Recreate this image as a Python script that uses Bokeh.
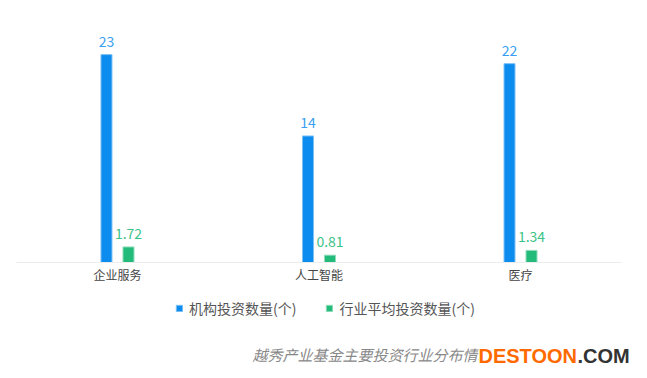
from bokeh.plotting import figure
from bokeh.models import ColumnDataSource, FactorRange, Legend, LegendItem, Label
from bokeh.transform import dodge
from bokeh.core.properties import value
from bokeh.embed import file_html
from bokeh.resources import INLINE

categories = ["企业服务", "人工智能", "医疗"]
inst_counts = [23, 14, 22]
avg_counts = [1.72, 0.81, 1.34]
series_names = ["机构投资数量(个)", "行业平均投资数量(个)"]
caption = "越秀产业基金主要投资行业分布情况"

BLUE = "#0b8cee"
GREEN = "#23bb7a"
FONT = "Noto Sans CJK SC"

src = ColumnDataSource(dict(
    cat=categories,
    inst=inst_counts,
    avg=avg_counts,
    inst_lbl=[str(v) for v in inst_counts],
    avg_lbl=[f"{v:.2f}" for v in avg_counts],
))

p = figure(width=637, height=370,
           x_range=FactorRange(*categories, range_padding=0.0537),
           y_range=(-11.95, 26), output_backend="svg", toolbar_location=None,
           min_border_left=0, min_border_right=0, min_border_top=27, min_border_bottom=0)
p.outline_line_color = None
p.grid.visible = False
p.yaxis.visible = False
p.background_fill_color = "white"

bw = 0.0546
r1 = p.vbar(x=dodge("cat", -bw, range=p.x_range), top="inst", width=bw, source=src,
            fill_color=BLUE, line_color="#7dc0f5", line_width=1)
r2 = p.vbar(x=dodge("cat", bw, range=p.x_range), top="avg", width=bw, source=src,
            fill_color=GREEN, line_color="#8fdcba", line_width=1)

p.text(x=dodge("cat", -bw, range=p.x_range), y="inst", text="inst_lbl", source=src,
       text_align="center", text_baseline="bottom", y_offset=-8,
       text_font=value(FONT), text_font_size="14px", text_color="#3a9ff0")
p.text(x=dodge("cat", bw, range=p.x_range), y="avg", text="avg_lbl", source=src,
       text_align="center", text_baseline="bottom", y_offset=-8,
       text_font=value(FONT), text_font_size="14px", text_color="#3cc388")

ax = p.xaxis[0]
ax.fixed_location = 0
ax.bounds = (0, 3)
ax.axis_line_color = "#ececec"
ax.axis_line_width = 1
ax.major_tick_line_color = None
ax.minor_tick_line_color = None
ax.major_label_standoff = -2
ax.major_label_text_font = FONT
ax.major_label_text_font_size = "12px"
ax.major_label_text_color = "#444444"

legend = Legend(items=[LegendItem(label=series_names[0], renderers=[r1]),
                       LegendItem(label=series_names[1], renderers=[r2])],
                orientation="horizontal", location=(175, 52),
                glyph_width=8, glyph_height=8, label_height=16, label_standoff=6,
                spacing=29, padding=0, margin=0, border_line_color=None,
                background_fill_alpha=0,
                label_text_font=FONT, label_text_font_size="14px", label_text_color="#555555")
p.add_layout(legend, "center")

p.add_layout(Label(x=252, y=6, x_units="screen", y_units="screen", text=caption,
                   text_font=FONT, text_font_size="15px", text_font_style="italic",
                   text_color="#888888"))
p.add_layout(Label(x=478, y=15, x_units="screen", y_units="screen", text="DESTOON",
                   text_baseline="alphabetic",
                   text_font="Liberation Sans", text_font_size="20px", text_font_style="bold",
                   text_color="#ff6a00", background_fill_color="white"))
p.add_layout(Label(x=577, y=15, x_units="screen", y_units="screen", text=".COM",
                   text_baseline="alphabetic",
                   text_font="Liberation Sans", text_font_size="20px", text_font_style="bold",
                   text_color="#333333"))

open("out.html", "w").write(file_html(p, INLINE))
